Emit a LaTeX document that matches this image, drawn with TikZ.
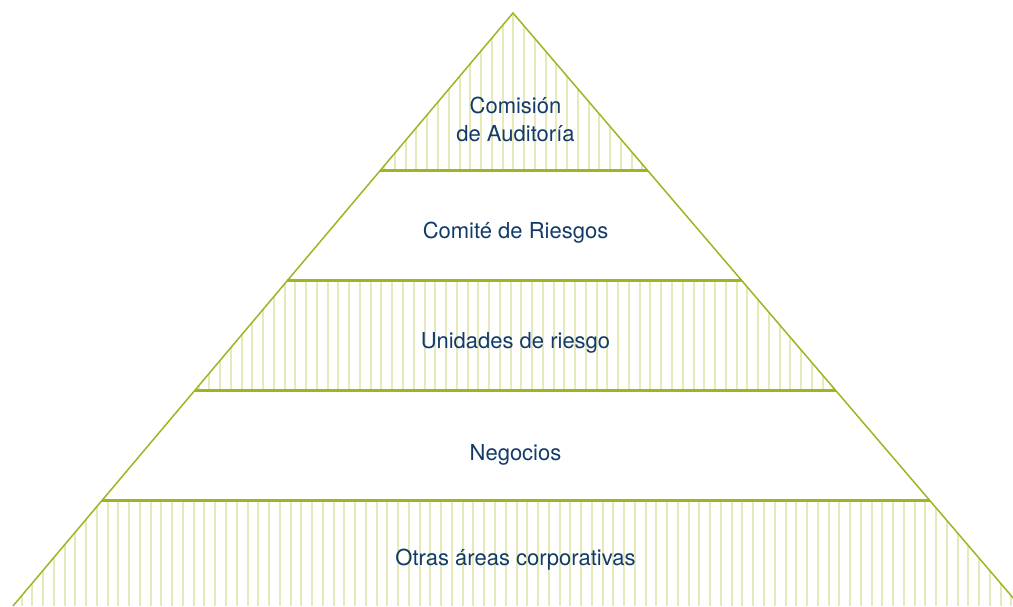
\documentclass[tikz,border=0pt]{standalone}
\usepackage{fontspec}
\setmainfont{TeX Gyre Heros}
\usetikzlibrary{calc}

\definecolor{pyrgreen}{HTML}{A0B422}
\definecolor{stripegreen}{HTML}{E6EAB8}
\definecolor{labelblue}{HTML}{133B69}

\tikzset{
  edge/.style={pyrgreen, line width=1.5pt},
  levelline/.style={pyrgreen, line width=3pt},
  stripeline/.style={stripegreen, line width=2pt},
  levellabel/.style={text=labelblue, font=\fontsize{22}{28}\selectfont, anchor=base, align=center, inner sep=0pt}
}

\begin{document}
\begin{tikzpicture}[x=1pt,y=1pt]
\useasboundingbox (0,0) rectangle (1013,606);
% corners
\coordinate (apex) at (513,593);
\coordinate (bl) at (13,0);
\coordinate (br) at (1020,0);

% stripes in the bands
\begin{scope}
\clip (bl) -- (apex) -- (br) -- cycle;
\foreach \ya/\yb/\off in {435.5/593/513.3, 215.3/325.3/510.6, 0/105/516.5}{
  \foreach \k in {-48,...,48}
    \draw [stripeline] (\off+\k*10.76,\ya) -- (\off+\k*10.76,\yb);
}
\end{scope}

% level ends
\foreach \n/\t in {1/0.7344, 2/0.5486, 3/0.3631, 4/0.1771}{
  \coordinate (l\n) at ($(bl)!\t!(apex)$);
  \coordinate (r\n) at ($(br)!\t!(apex)$);
}

% outline
\draw [edge] (bl) -- (apex) -- (br);
\draw [levelline] (l1) -- (r1);
\draw [levelline] (l2) -- (r2);
\draw [levelline] (l3) -- (r3);
\draw [levelline] (l4) -- (r4);

% labels
\node [levellabel] (auditoria) at (515.5,464.5) {Comisión\\de Auditoría};
\node [levellabel] (riesgos) at (515.5,367.3) {Comité de Riesgos};
\node [levellabel] (unidades) at (515.5,257.7) {Unidades de riesgo};
\node [levellabel] (negocios) at (515.5,145.3) {Negocios};
\node [levellabel] (otras) at (515.5,41) {Otras áreas corporativas};

\end{tikzpicture}
\end{document}
